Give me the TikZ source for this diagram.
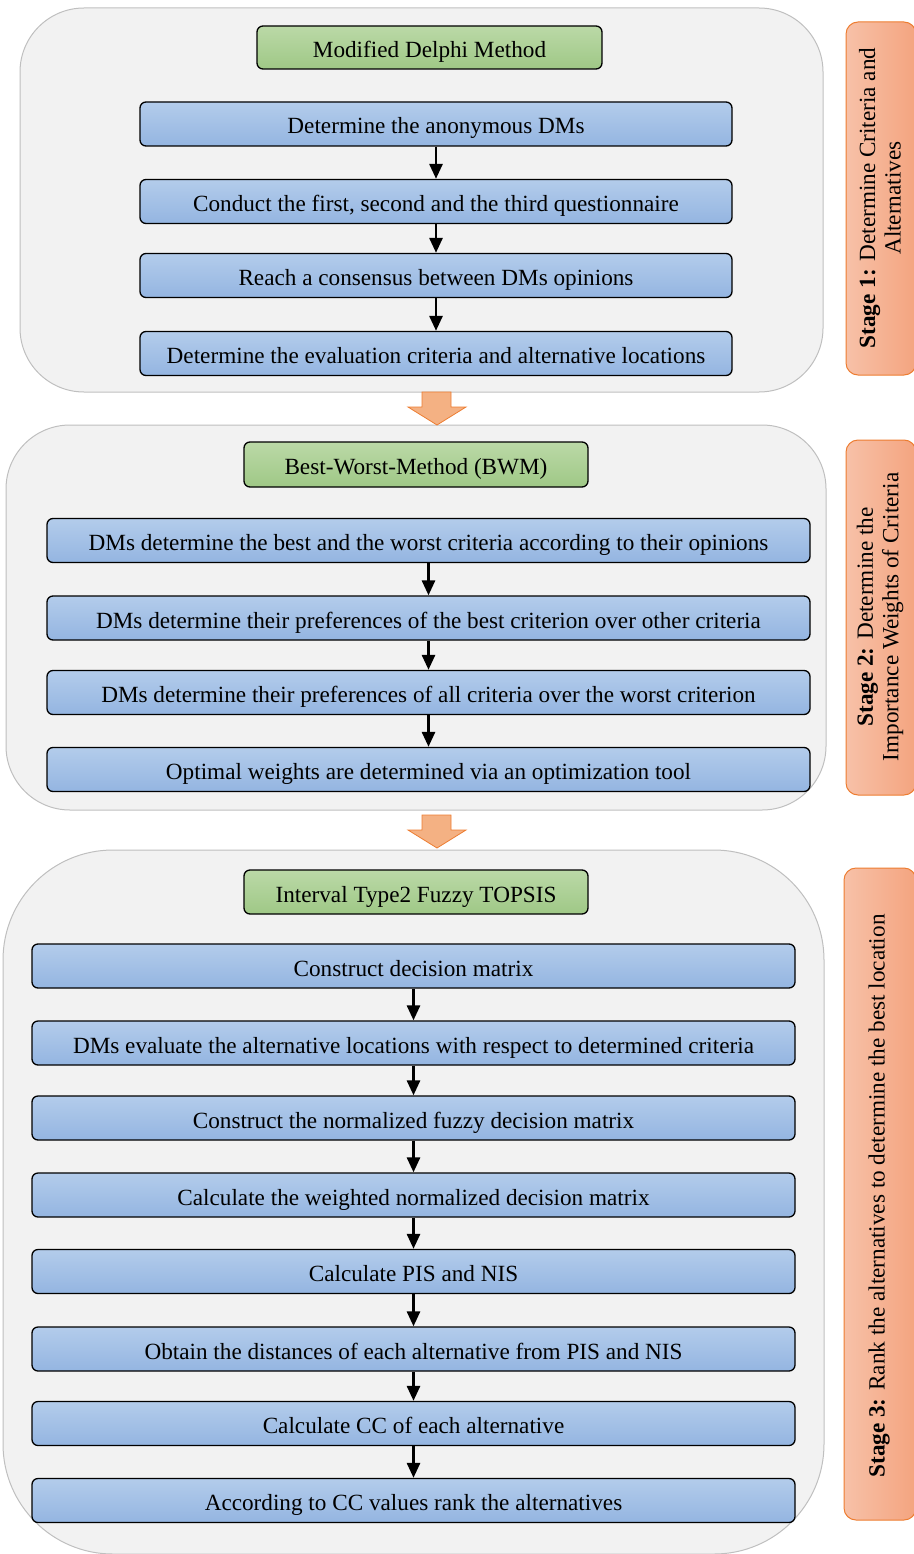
\documentclass[tikz,border=0pt]{standalone}
\usepackage{fontspec}
\setmainfont{Liberation Serif}
\usetikzlibrary{arrows.meta}
\definecolor{panelfill}{HTML}{F2F2F2}
\definecolor{panelline}{HTML}{BFBFBF}
\definecolor{blueTop}{HTML}{B3CCEB}
\definecolor{blueBot}{HTML}{94B5E1}
\definecolor{greenTop}{HTML}{BBD9A7}
\definecolor{greenBot}{HTML}{9FC886}
\definecolor{stageL}{HTML}{F7C1A8}
\definecolor{stageR}{HTML}{F4A47F}
\definecolor{stageLine}{HTML}{ED7D31}
\definecolor{bigarrow}{HTML}{F4B183}
\newcommand{\boxfont}{\fontsize{23.2}{25.5}\selectfont}
\begin{document}
\begin{tikzpicture}[x=1pt,y=-1pt,
  panel/.style={draw=panelline,fill=panelfill,line width=1pt,inner sep=0pt},
  stepbox/.style={draw=black,line width=1.3pt,rounded corners=6pt,top color=blueTop,bottom color=blueBot,inner sep=0pt,font=\boxfont,text height=20pt,text depth=0pt},
  titlebox/.style={draw=black,line width=1.3pt,rounded corners=6pt,top color=greenTop,bottom color=greenBot,inner sep=0pt,font=\boxfont,text height=20pt,text depth=0pt},
  stagebox/.style={draw=stageLine,line width=1pt,rounded corners=12pt,left color=stageL,right color=stageR,inner sep=0pt},
  stagetext/.style={rotate=90,align=center,font=\boxfont,inner sep=0pt},
  conn/.style={draw=black,line width=2.8pt,-{Triangle[length=15pt,width=13pt]}},
  blockarrow/.style={draw=stageLine,fill=bigarrow,line width=0.8pt,line join=miter}
]
\useasboundingbox (0,0) rectangle (913,1554);

% panels
\node[panel,rounded corners=64pt,minimum width=803pt,minimum height=384pt] (p1) at (421.5,200) {};
\node[panel,rounded corners=64pt,minimum width=820pt,minimum height=385pt] (p2) at (416,617.5) {};
\node[panel,rounded corners=110pt,minimum width=821pt,minimum height=704pt] (p3) at (413.5,1202) {};

% stage labels
\node[stagebox,minimum width=70pt,minimum height=353pt] (s1) at (881,198.5) {};
\node[stagetext] (s1t) at (880,198) {\textbf{Stage 1:} Determine Criteria and\\Alternatives};
\node[stagebox,minimum width=70pt,minimum height=355pt] (s2) at (881,617.5) {};
\node[stagetext] (s2t) at (880,617) {\textbf{Stage 2:} Determine the\\Importance Weights of Criteria};
\node[stagebox,minimum width=72pt,minimum height=652pt] (s3) at (880,1194) {};
\node[stagetext] (s3t) at (879,1196) {\textbf{Stage 3:} Rank the alternatives to determine the best location};

% stage 1
\node[titlebox,minimum width=345pt,minimum height=43pt] (t1) at (429.5,47.5) {Modified Delphi Method};
\node[stepbox,minimum width=592pt,minimum height=44pt] (a1) at (436,124) {Determine the anonymous DMs};
\node[stepbox,minimum width=592pt,minimum height=44pt] (a2) at (436,201.5) {Conduct the first, second and the third questionnaire};
\node[stepbox,minimum width=592pt,minimum height=44pt] (a3) at (436,275.5) {Reach a consensus between DMs opinions};
\node[stepbox,minimum width=592pt,minimum height=44pt] (a4) at (436,353.5) {Determine the evaluation criteria and alternative locations};
\draw[conn] (a1) -- (a2);
\draw[conn] (a2) -- (a3);
\draw[conn] (a3) -- (a4);

% stage 2
\node[titlebox,minimum width=344pt,minimum height=45pt] (t2) at (416,464.5) {Best-Worst-Method (BWM)};
\node[stepbox,minimum width=763pt,minimum height=44pt] (b1) at (428.5,540.5) {DMs determine the best and the worst criteria according to their opinions};
\node[stepbox,minimum width=763pt,minimum height=44pt] (b2) at (428.5,618) {DMs determine their preferences of the best criterion over other criteria};
\node[stepbox,minimum width=763pt,minimum height=44pt] (b3) at (428.5,692.5) {DMs determine their preferences of all criteria over the worst criterion};
\node[stepbox,minimum width=763pt,minimum height=44pt] (b4) at (428.5,769.5) {Optimal weights are determined via an optimization tool};
\draw[conn] (b1) -- (b2);
\draw[conn] (b2) -- (b3);
\draw[conn] (b3) -- (b4);

% stage 3
\node[titlebox,minimum width=344pt,minimum height=44pt] (t3) at (416,892) {Interval Type2 Fuzzy TOPSIS};
\node[stepbox,minimum width=763pt,minimum height=44pt] (c1) at (413.5,966) {Construct decision matrix};
\node[stepbox,minimum width=763pt,minimum height=44pt] (c2) at (413.5,1043) {DMs evaluate the alternative locations with respect to determined criteria};
\node[stepbox,minimum width=763pt,minimum height=44pt] (c3) at (413.5,1118) {Construct the normalized fuzzy decision matrix};
\node[stepbox,minimum width=763pt,minimum height=44pt] (c4) at (413.5,1195) {Calculate the weighted normalized decision matrix};
\node[stepbox,minimum width=763pt,minimum height=44pt] (c5) at (413.5,1271.5) {Calculate PIS and NIS};
\node[stepbox,minimum width=763pt,minimum height=44pt] (c6) at (413.5,1349) {Obtain the distances of each alternative from PIS and NIS};
\node[stepbox,minimum width=763pt,minimum height=44pt] (c7) at (413.5,1423.5) {Calculate CC of each alternative};
\node[stepbox,minimum width=763pt,minimum height=44pt] (c8) at (413.5,1500.5) {According to CC values rank the alternatives};
\foreach \u/\v in {c1/c2,c2/c3,c3/c4,c4/c5,c5/c6,c6/c7,c7/c8} \draw[conn] (\u) -- (\v);

% block arrows between stages
\path[blockarrow] (422,392) -- (451,392) -- (451,407) -- (466,407) -- (437,425) -- (408,407) -- (422,407) -- cycle;
\path[blockarrow] (422,815) -- (451,815) -- (451,830) -- (466,830) -- (437,848) -- (408,830) -- (422,830) -- cycle;
\end{tikzpicture}
\end{document}
